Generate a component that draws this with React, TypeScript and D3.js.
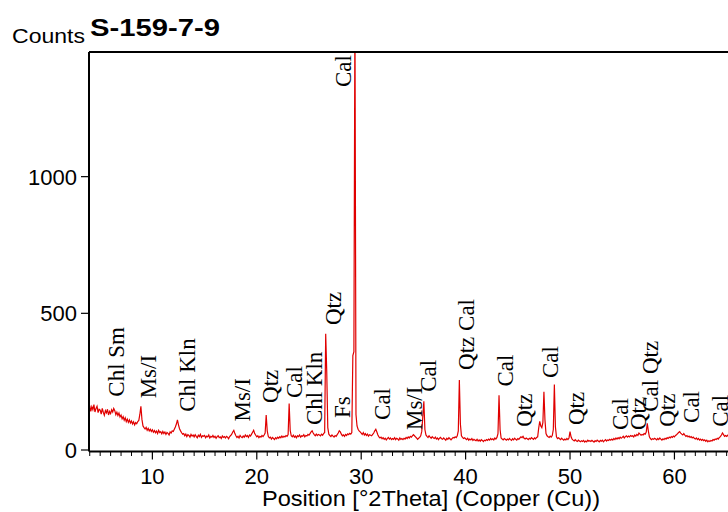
import React from "react";
import * as d3 from "d3";

const startAngle = 3.9;
const stepSize = 0.1;
const counts: number[] = [
  150,
  162, 141, 158, 147, 166, 139, 152, 160, 137, 149,
  146, 131, 152, 138, 127, 144, 136, 149, 128, 141,
  133, 147, 139, 152, 144, 129, 138, 126, 135, 121,
  128, 114, 122, 109, 118, 104, 113, 101, 110, 99,
  106, 95, 103, 92, 100, 96, 104, 108, 130, 160,
  112, 88, 82, 77, 83, 72, 79, 70, 76, 68,
  74, 65, 71, 63, 69, 60, 72, 64, 67, 59,
  68, 60, 66, 57, 64, 61, 55, 66, 62, 70,
  68, 76, 84, 95, 110, 92, 78, 70, 63, 58,
  60, 52, 58, 49, 56, 53, 47, 57, 51, 55,
  48, 56, 50, 45, 54, 49, 57, 46, 52, 50,
  53, 45, 51, 48, 55, 44, 50, 47, 53, 46,
  50, 43, 49, 52, 45, 48, 42, 51, 46, 49,
  44, 50, 47, 41, 49, 53, 58, 66, 72, 60,
  52, 46, 50, 44, 53, 48, 45, 51, 47, 55,
  49, 53, 46, 55, 51, 58, 65, 72, 60, 54,
  48, 52, 45, 50, 47, 53, 49, 55, 62, 128,
  70, 50, 44, 47, 40, 46, 42, 38, 45, 41,
  47, 43, 49, 45, 51, 46, 50, 48, 53, 50,
  56, 170, 72, 52, 48, 54, 47, 51, 45, 52,
  49, 55, 47, 52, 50, 56, 48, 53, 51, 57,
  54, 60, 66, 70, 62, 56, 52, 58, 53, 57,
  55, 52, 58, 54, 60, 64, 425, 285, 82, 58,
  53, 49, 55, 51, 47, 53, 50, 56, 62, 70,
  66, 58, 52, 55, 50, 57, 53, 59, 56, 61,
  58, 64, 345, 360, 1620, 130, 88, 76, 70, 66,
  62, 57, 64, 55, 60, 53, 58, 51, 56, 54,
  52, 57, 62, 70, 76, 66, 55, 48, 44, 47,
  41, 45, 39, 43, 37, 42, 46, 40, 44, 38,
  42, 39, 45, 38, 43, 40, 36, 44, 39, 42,
  38, 43, 40, 46, 42, 48, 44, 50, 47, 52,
  56, 52, 48, 44, 39, 43, 46, 52, 68, 122,
  178, 75, 55, 50, 46, 52, 47, 43, 49, 45,
  42, 47, 40, 44, 38, 43, 46, 41, 39, 44,
  40, 36, 43, 39, 45, 41, 37, 42, 46, 44,
  48, 45, 52, 70, 256, 95, 52, 46, 42, 45,
  41, 38, 43, 36, 40, 37, 42, 35, 39, 36,
  34, 39, 33, 37, 32, 38, 35, 31, 36, 34,
  38, 35, 40, 36, 42, 38, 41, 37, 44, 40,
  46, 60, 200, 75, 44, 40, 37, 42, 39, 36,
  40, 37, 42, 38, 35, 41, 37, 43, 39, 36,
  42, 39, 44, 48, 45, 50, 43, 40, 44, 41,
  38, 43, 40, 45, 42, 39, 44, 41, 46, 48,
  80, 105, 88, 82, 100, 213, 110, 60, 52, 48,
  46, 51, 47, 53, 75, 240, 85, 48, 42, 45,
  41, 38, 43, 39, 36, 40, 37, 42, 38, 44,
  67, 48, 40, 36, 33, 38, 34, 31, 36, 33,
  30, 34, 31, 35, 29, 33, 30, 36, 32, 34,
  31, 35, 32, 29, 34, 31, 36, 33, 30, 35,
  32, 36, 30, 34, 38, 33, 37, 35, 39, 36,
  40, 36, 42, 38, 44, 40, 45, 41, 47, 43,
  46, 50, 44, 49, 52, 47, 51, 48, 53, 50,
  52, 48, 55, 51, 57, 53, 62, 58, 54, 57,
  55, 60, 58, 66, 98, 70, 48, 42, 38, 41,
  39, 43, 40, 37, 42, 38, 44, 40, 36, 41,
  38, 43, 40, 45, 42, 47, 44, 49, 46, 51,
  48, 53, 56, 60, 64, 67, 62, 58, 55, 60,
  54, 50, 53, 48, 51, 46, 49, 44, 47, 43,
  40, 44, 38, 42, 36, 40, 35, 39, 34, 37,
  32, 36, 30, 34, 31, 35, 33, 38, 36, 40,
  38, 43, 40, 46, 49, 55, 62, 56, 50, 53,
  50, 54, 49,
];

const xTickValues = [10, 20, 30, 40, 50, 60];
const yTickValues = [0, 500, 1000];

// Phase labels: text, 2Theta of label centre, count level of label start
const peakLabels = [
  "Chl Sm", "Ms/I", "Chl Kln", "Ms/I", "Qtz", "Cal", "Chl Kln", "Qtz", "Fs", "Cal",
  "Cal", "Ms/I", "Cal", "Qtz Cal", "Cal", "Qtz", "Cal", "Qtz", "Cal", "Qtz",
  "Cal Qtz", "Qtz", "Cal", "Cal",
];
const peakLabelAngles = [
  6.54, 9.61, 13.36, 18.63, 21.26, 23.56, 25.48, 27.3, 28.21, 28.26,
  32.04, 35.06, 36.4, 40.04, 43.82, 45.59, 48.13, 50.57, 54.79, 56.51,
  57.66, 59.29, 61.59, 64.37,
];
const peakLabelLevels = [
  195, 189, 140, 104, 172, 190, 91, 457, 117, 1328,
  110, 73, 213, 293, 232, 85, 263, 91, 73, 73,
  140, 85, 99, 85,
];

export default function App() {
  const W = 728;
  const H = 512;
  const left = 89;
  const right = 728;
  const top = 52;
  const bottom = 451.5;

  const x = d3.scaleLinear().domain([3.93, 65.13]).range([left, right]);
  const y = d3.scaleLinear().domain([-5.5, 1456]).range([bottom, top]);

  const pts: [number, number][] = counts.map((c, i) => [startAngle + i * stepSize, c]);
  const line = d3
    .line<[number, number]>()
    .x((d) => x(d[0]))
    .y((d) => y(d[1]));

  const minorTicks = d3.range(4, 66).filter((v) => v % 10 !== 0 && v >= 3.93 && v <= 65.13);

  const sans = "'Liberation Sans', Arial, sans-serif";
  const serif = "'Liberation Serif', 'Times New Roman', serif";
  const labelSize = 23;

  return (
    <svg
      width={W}
      height={H}
      style={{ position: "absolute", left: 0, top: 0, background: "#fff" }}
    >
      <rect x={0} y={0} width={W} height={H} fill="#fff" />
      <defs>
        <clipPath id="plotClip">
          <rect x={left} y={top} width={right - left} height={bottom - top} />
        </clipPath>
      </defs>

      {/* titles */}
      <text
        x={12}
        y={43}
        fontFamily={sans}
        fontSize={21}
        fill="#000"
        textLength={73}
        lengthAdjust="spacingAndGlyphs"
      >
        Counts
      </text>
      <text
        x={90}
        y={36}
        fontFamily={sans}
        fontSize={24}
        fontWeight="bold"
        fill="#000"
        textLength={130}
        lengthAdjust="spacingAndGlyphs"
      >
        S-159-7-9
      </text>

      {/* data */}
      <path
        d={line(pts) || ""}
        fill="none"
        stroke="#e00000"
        strokeWidth={1.2}
        clipPath="url(#plotClip)"
      />

      {/* peak labels */}
      {peakLabels.map((t, i) => {
        const cx = x(peakLabelAngles[i]) + 7.6;
        const cy = y(peakLabelLevels[i]);
        return (
          <text
            key={i}
            transform={`translate(${cx},${cy}) rotate(-90)`}
            fontFamily={serif}
            fontSize={labelSize}
            fill="#000"
          >
            {t}
          </text>
        );
      })}

      {/* frame */}
      <line x1={left} x2={right} y1={top} y2={top} stroke="#000" strokeWidth={2} />
      <line x1={left} x2={left} y1={top} y2={bottom} stroke="#000" strokeWidth={2} />
      <line x1={left} x2={right} y1={bottom} y2={bottom} stroke="#000" strokeWidth={2} />

      {/* y ticks */}
      {yTickValues.map((v) => (
        <g key={v}>
          <line x1={left - 8} x2={left} y1={y(v)} y2={y(v)} stroke="#000" strokeWidth={1.2} />
          <text
            x={left - 12}
            y={y(v)}
            dy="0.36em"
            textAnchor="end"
            fontFamily={sans}
            fontSize={22}
            fill="#000"
          >
            {v}
          </text>
        </g>
      ))}

      {/* x ticks */}
      {minorTicks.map((v) => (
        <line key={"m" + v} x1={x(v)} x2={x(v)} y1={bottom} y2={bottom + 4.5} stroke="#000" strokeWidth={1} />
      ))}
      {xTickValues.map((v) => (
        <g key={v}>
          <line x1={x(v)} x2={x(v)} y1={bottom} y2={bottom + 8} stroke="#000" strokeWidth={1.2} />
          <text
            x={x(v)}
            y={484}
            textAnchor="middle"
            fontFamily={sans}
            fontSize={22}
            fill="#000"
          >
            {v}
          </text>
        </g>
      ))}
      <text
        x={431}
        y={506}
        textAnchor="middle"
        fontFamily={sans}
        fontSize={22}
        fill="#000"
        textLength={338}
        lengthAdjust="spacingAndGlyphs"
      >
        Position [°2Theta] (Copper (Cu))
      </text>
    </svg>
  );
}
